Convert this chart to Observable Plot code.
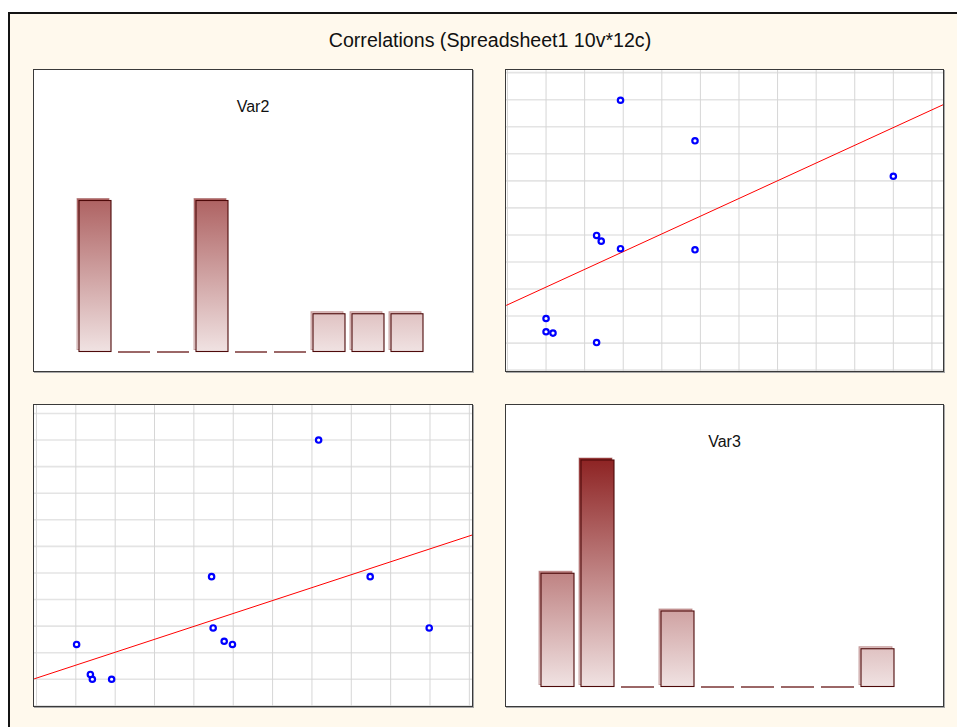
<!DOCTYPE html>
<html><head><meta charset="utf-8">
<script src="https://cdn.jsdelivr.net/npm/d3@7"></script>
<script src="https://cdn.jsdelivr.net/npm/@observablehq/plot@0.6"></script>
<style>
html,body{margin:0;padding:0;background:#fff;overflow:hidden;width:957px;height:727px;}
body{font-family:"Liberation Sans",Arial,sans-serif;position:relative;}
#frame{position:absolute;left:8px;top:12px;width:980px;height:740px;border-left:2px solid #141414;border-top:2px solid #141414;background:#fff9ed;}
#title{position:absolute;left:0;top:30px;width:980px;text-align:center;font-size:19.6px;line-height:20px;color:#111;}
.panel{position:absolute;box-sizing:border-box;border:1px solid #3a3a3a;box-shadow:1px 1px 0 #a8a8a8;background:#fff;}
.panel svg{display:block;}
.ptitle{position:absolute;left:0;right:0;top:29px;text-align:center;font-size:16px;line-height:16px;color:#111;}
</style></head><body>
<div id="frame"></div>
<div id="title">Correlations (Spreadsheet1 10v*12c)</div>
<div class="panel" id="p1" style="left:33px;top:69px;width:440px;height:303px"><div class="ptitle">Var2</div></div>
<div class="panel" id="p2" style="left:505px;top:69px;width:439px;height:303px"></div>
<div class="panel" id="p3" style="left:33px;top:404px;width:440px;height:303px"></div>
<div class="panel" id="p4" style="left:505px;top:404px;width:439px;height:303px"><div class="ptitle">Var3</div></div>
<script>
// ---- data ----
const bins = ["1","2","3","4","5","6","7","8","9"];
const var2Counts = [4,0,0,4,0,0,1,1,1];
const var3Counts = [3,6,0,2,0,0,0,0,1];
// paired cases (Var2, Var3), in grid units
const var2 = [0.91, 0.42, 0.37, 0.02, 3.98, 3.77, 3.49, 8.98, 7.48, 3.45, 6.17];
const var3 = [0.00, 0.00, 0.18, 1.31, 1.31, 1.43, 1.93, 1.93, 3.86, 3.86, 9.00];
// axis extents and grid ticks
const var2Domain = [-1.05, 10.08];
const var3Domain = [-1.025, 10.30];
const gridTicks = [-1,0,1,2,3,4,5,6,7,8,9,10];

const countMax = Math.max(d3.max(var2Counts), d3.max(var3Counts));

function histogram(el, counts, gradId, ml, mr) {
  const data = bins.map((b, i) => ({bin: b, count: counts[i]}));
  const W = el.clientWidth, H = el.clientHeight;
  const nz = data.filter(d => d.count > 0);
  const plot = Plot.plot({
    width: W, height: H,
    marginLeft: ml, marginRight: mr, marginTop: 55, marginBottom: 19.5,
    x: {type: "band", domain: bins, paddingInner: 0.18, paddingOuter: 0.09, axis: null},
    y: {domain: [0, countMax], axis: null},
    style: {background: "transparent", overflow: "visible"},
    marks: [
      Plot.barY(nz, {x: "bin", y: "count", fill: `url(#${gradId})`, stroke: "#a86a6a", strokeOpacity: 0.6, strokeWidth: 1, dx: -2, dy: -2}),
      Plot.barY(nz, {x: "bin", y: "count", fill: `url(#${gradId})`, stroke: "#4e0a0a", strokeWidth: 1.1}),
      Plot.tickY(data.filter(d => d.count === 0), {x: "bin", y: 0, stroke: "#7a3535", strokeWidth: 1.5})
    ]
  });
  const y = plot.scale("y");
  const svg = d3.select(plot);
  const defs = svg.insert("defs", ":first-child");
  const g = defs.append("linearGradient").attr("id", gradId)
    .attr("gradientUnits", "userSpaceOnUse")
    .attr("x1", 0).attr("x2", 0)
    .attr("y1", y.apply(0)).attr("y2", y.apply(countMax));
  g.append("stop").attr("offset", 0).attr("stop-color", "#f0e2e2");
  g.append("stop").attr("offset", 1).attr("stop-color", "#8e2424");
  el.appendChild(plot);
}

function scatter(el, xs, ys, xDomain, yDomain) {
  const pts = xs.map((x, i) => ({x, y: ys[i]}));
  const mx = d3.mean(xs), my = d3.mean(ys);
  const b = d3.sum(pts, p => (p.x - mx) * (p.y - my)) / d3.sum(pts, p => (p.x - mx) ** 2);
  const a = my - b * mx;
  const fit = xDomain.map(x => ({x, y: a + b * x}));
  const W = el.clientWidth, H = el.clientHeight;
  const plot = Plot.plot({
    width: W, height: H, margin: 0,
    x: {domain: xDomain, axis: null},
    y: {domain: yDomain, axis: null},
    style: {background: "transparent"},
    marks: [
      Plot.ruleY(gridTicks, {stroke: "#e4e4e4", strokeWidth: 1.6}),
      Plot.ruleX(gridTicks, {stroke: "#d6d6d6", strokeWidth: 1}),
      Plot.line(fit, {x: "x", y: "y", stroke: "#ff0000", strokeWidth: 1}),
      Plot.dot(pts, {x: "x", y: "y", r: 2.7, stroke: "#0000ff", strokeWidth: 2.2, fill: "#ffffff"})
    ]
  });
  el.appendChild(plot);
}

histogram(document.getElementById("p1"), var2Counts, "gradVar2", 40.45, 44.15);
scatter(document.getElementById("p2"), var3, var2, var3Domain, var2Domain);
scatter(document.getElementById("p3"), var2, var3, var2Domain, var3Domain);
histogram(document.getElementById("p4"), var3Counts, "gradVar3", 31.85, 45.15);
</script>
</body></html>
